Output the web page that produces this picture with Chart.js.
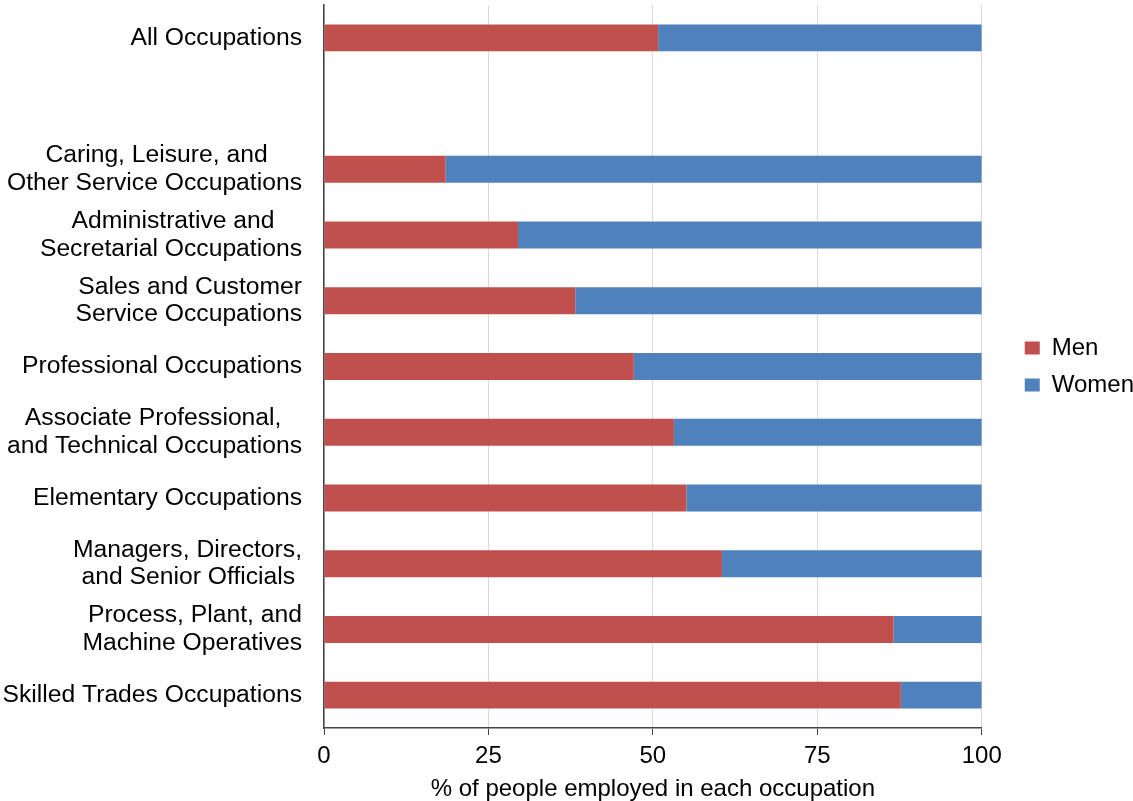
<!DOCTYPE html>
<html>
<head>
<meta charset="utf-8">
<script src="https://cdn.jsdelivr.net/npm/chart.js@4"></script>
<style>
  html, body { margin: 0; padding: 0; background: #fff; }
  #wrap { width: 1133px; height: 801px; position: relative; }
</style>
</head>
<body>
<div id="wrap"><canvas id="occupationChart"></canvas></div>
<script>
// Data
const occupations = [
  ["All Occupations"],
  [""],
  ["Caring, Leisure, and", "Other Service Occupations"],
  ["Administrative and", "Secretarial Occupations"],
  ["Sales and Customer", "Service Occupations"],
  ["Professional Occupations"],
  ["Associate Professional,", "and Technical Occupations"],
  ["Elementary Occupations"],
  ["Managers, Directors,", "and Senior Officials"],
  ["Process, Plant, and", "Machine Operatives"],
  ["Skilled Trades Occupations"],
];
const menShare = [50.8, null, 18.5, 29.5, 38.2, 47.1, 53.2, 55.1, 60.5, 86.6, 87.7];
const womenShare = [49.2, null, 81.5, 70.5, 61.8, 52.9, 46.8, 44.9, 39.5, 13.4, 12.3];
const xTicks = [0, 25, 50, 75, 100];

const FONT = "'Liberation Sans', Arial, Helvetica, sans-serif";
const LABEL_SIZE = 24.7;
const AXIS_COLOR = "#444";

// Pad the shorter line of a two-line label so both lines sit centred in a right-aligned block
function centerLines(lines) {
  if (lines.length < 2) return lines[0];
  const ctx = document.createElement("canvas").getContext("2d");
  ctx.font = LABEL_SIZE + "px " + FONT;
  const spaceW = ctx.measureText(" ").width;
  const widths = lines.map((l) => ctx.measureText(l).width);
  const widest = Math.max(...widths);
  return lines.map((l, i) => l + " ".repeat(Math.round((widest - widths[i]) / 2 / spaceW)));
}

// Leave a gap between the plot and the legend, like the original
const legendGap = {
  id: "legendGap",
  afterLayout(chart) {
    const legend = chart.legend;
    if (!legend) return;
    legend.left += 30;
    legend.right += 30;
  },
};

function renderOccupationChart() {
  const ctx = document.getElementById("occupationChart").getContext("2d");
  new Chart(ctx, {
    type: "bar",
    data: {
      labels: occupations.map(centerLines),
      datasets: [
        {
          label: "Men",
          data: menShare,
          backgroundColor: "#C0504D",
          barPercentage: 0.41,
          categoryPercentage: 1,
        },
        {
          label: "Women",
          data: womenShare,
          backgroundColor: "#4F81BD",
          barPercentage: 0.41,
          categoryPercentage: 1,
        },
      ],
    },
    plugins: [legendGap],
    options: {
      indexAxis: "y",
      responsive: true,
      maintainAspectRatio: false,
      animation: false,
      layout: { padding: { top: 5, right: 19, bottom: 0, left: 0 } },
      plugins: {
        tooltip: { enabled: false },
        legend: {
          position: "right",
          fullSize: false,
          labels: {
            boxWidth: 15,
            boxHeight: 13,
            padding: 13,
            color: "#000",
            font: { family: FONT, size: 24 },
          },
        },
      },
      scales: {
        x: {
          stacked: true,
          min: 0,
          max: 100,
          afterBuildTicks: (scale) => {
            scale.ticks = xTicks.map((v) => ({ value: v }));
          },
          afterFit: (scale) => {
            scale.paddingLeft = 0;
            scale.paddingRight = 0;
          },
          grid: {
            color: "#d9d9d9",
            tickColor: AXIS_COLOR,
            tickLength: 7,
          },
          border: { color: AXIS_COLOR, width: 1.5 },
          ticks: {
            color: "#000",
            padding: 9,
            font: { family: FONT, size: 24, lineHeight: 1.0 },
          },
          title: {
            display: true,
            text: "% of people employed in each occupation",
            color: "#000",
            font: { family: FONT, size: 24, lineHeight: 1.0 },
            padding: { top: 0, bottom: 0 },
          },
        },
        y: {
          stacked: true,
          grid: { display: false, drawTicks: false },
          border: { color: AXIS_COLOR, width: 1.5 },
          afterFit: (scale) => {
            scale.width = 324;
            scale.paddingTop = 0;
            scale.paddingBottom = 0;
          },
          ticks: {
            color: "#000",
            padding: 22,
            font: { family: FONT, size: LABEL_SIZE, lineHeight: 1.12 },
          },
        },
      },
    },
  });
}

document.addEventListener("DOMContentLoaded", () => {
  renderOccupationChart();
});
</script>
</body>
</html>
